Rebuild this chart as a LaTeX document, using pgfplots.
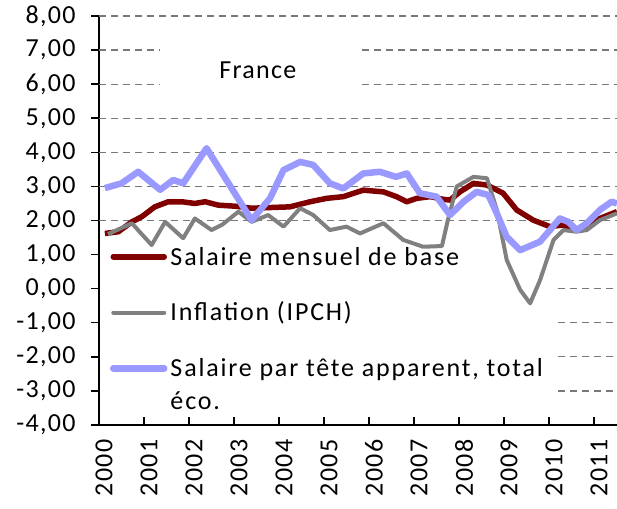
\documentclass[border=0pt]{standalone}
\usepackage{fontspec}
\setmainfont{Carlito}[LetterSpace=5.0]
\newfontfamily\legfont{Carlito}[LetterSpace=7.0]
\usepackage{pgfplots}
\pgfplotsset{compat=1.18}
\definecolor{redline}{RGB}{128,0,0}
\definecolor{grayline}{RGB}{128,128,128}
\definecolor{blueline}{RGB}{153,153,255}
\definecolor{gridc}{RGB}{120,120,120}
\newcommand{\mystrut}{\rule[-8pt]{0pt}{28pt}}
\begin{document}
\begin{tikzpicture}
\begin{axis}[
  name=ax,
  scale only axis,
  width=518pt, height=409pt,
  xmin=2000, xmax=2011.51,
  ymin=-4, ymax=8,
  axis x line*=bottom,
  axis y line*=left,
  axis line style={black, line width=1.5pt},
  tick style={black, line width=1.5pt},
  major tick length=8pt,
  xtick align=inside,
  ytick align=outside,
  xtick={2000,2001,2002,2003,2004,2005,2006,2007,2008,2009,2010,2011},
  xticklabels={2000,2001,2002,2003,2004,2005,2006,2007,2008,2009,2010,2011},
  ytick={-4,-3,-2,-1,0,1,2,3,4,5,6,7,8},
  yticklabels={{-4,00},{-3,00},{-2,00},{-1,00},{0,00},{1,00},{2,00},{3,00},{4,00},{5,00},{6,00},{7,00},{8,00}},
  yticklabel style={font=\fontsize{26}{30}\selectfont, xshift=-12pt},
  xticklabel style={font=\fontsize{26}{30}\selectfont, xshift=5pt, yshift=-11pt, rotate=90, anchor=east},
  legend style={at={(axis cs:2000.24,1.79)}, anchor=north west, draw=none, fill=none, inner sep=0pt,
    row sep=17pt, column sep=3pt,
    nodes={inner sep=0pt, font=\legfont\fontsize{26}{35}\selectfont},
    cells={anchor=west}},
  legend image code/.code={\path[draw=none, fill=none] (0pt,-8pt) rectangle (57pt,28pt);
    \draw[#1, line cap=round] (3pt,-1pt) -- (54pt,-1pt);},
  grid line/.style={gridc, line width=1.3pt, dash pattern=on 7pt off 5pt, forget plot},
]
% gridlines
\addplot[grid line] coordinates {(2000,8) (2011.51,8)};
\addplot[grid line] coordinates {(2000,7) (2001.36,7)};
\addplot[grid line] coordinates {(2005.84,7) (2011.51,7)};
\addplot[grid line] coordinates {(2000,6) (2001.36,6)};
\addplot[grid line] coordinates {(2005.84,6) (2011.51,6)};
\addplot[grid line] coordinates {(2000,5) (2011.51,5)};
\addplot[grid line] coordinates {(2000,4) (2011.51,4)};
\addplot[grid line] coordinates {(2000,3) (2011.51,3)};
\addplot[grid line] coordinates {(2000,2) (2011.51,2)};
\addplot[grid line] coordinates {(2010.2,1) (2011.51,1)};
\addplot[grid line] coordinates {(2010.2,0) (2011.51,0)};
\addplot[grid line] coordinates {(2010.2,-1) (2011.51,-1)};
\addplot[grid line] coordinates {(2010.2,-2) (2011.51,-2)};
\addplot[grid line] coordinates {(2010.2,-3) (2011.51,-3)};
% Salaire mensuel de base
\addplot[redline, line width=5.5pt, line join=round] coordinates {
(2000.13,1.62) (2000.43,1.67) (2000.73,1.96) (2000.95,2.11) (2001.24,2.40) (2001.54,2.55)
(2001.84,2.55) (2002.13,2.50) (2002.36,2.55) (2002.65,2.45) (2003.02,2.42) (2003.39,2.36)
(2003.80,2.38) (2004.24,2.40) (2004.69,2.55) (2005.06,2.65) (2005.43,2.70) (2005.87,2.89)
(2006.32,2.84) (2006.61,2.70) (2006.84,2.55) (2007.06,2.65) (2007.36,2.70) (2007.65,2.62)
(2007.80,2.60) (2008.02,2.84) (2008.32,3.09) (2008.62,3.04) (2008.98,2.80) (2009.28,2.31)
(2009.65,2.01) (2010.02,1.82) (2010.32,1.87) (2010.54,1.72) (2010.84,1.77) (2011.13,2.06)
(2011.51,2.26)};
\addlegendentry{\mystrut Salaire mensuel de base}
% Inflation
\addplot[grayline, line width=4pt, line join=round] coordinates {
(2000.20,1.60) (2000.73,1.92) (2001.17,1.28) (2001.47,1.96) (2001.87,1.48) (2002.13,2.06)
(2002.50,1.72) (2002.73,1.87) (2003.10,2.26) (2003.39,1.96) (2003.76,2.16) (2004.10,1.82)
(2004.47,2.36) (2004.76,2.16) (2005.13,1.72) (2005.50,1.82) (2005.80,1.62) (2006.32,1.92)
(2006.76,1.43) (2007.20,1.23) (2007.62,1.25) (2007.75,2.00) (2007.95,3.00) (2008.32,3.28)
(2008.62,3.24) (2008.84,2.31) (2009.06,0.84) (2009.36,-0.04) (2009.58,-0.43) (2009.80,0.25)
(2010.10,1.43) (2010.32,1.72) (2010.61,1.67) (2010.84,1.72) (2011.13,2.01) (2011.51,2.21)};
\addlegendentry{\mystrut Inflation (IPCH)}
% Salaire par tete
\addplot[blueline, line width=6.5pt, line join=round] coordinates {
(2000.13,2.95) (2000.50,3.09) (2000.87,3.43) (2001.36,2.90) (2001.65,3.19) (2001.87,3.09)
(2002.39,4.12) (2003.39,2.01) (2003.80,2.65) (2004.10,3.48) (2004.47,3.72) (2004.76,3.63)
(2005.13,3.09) (2005.43,2.94) (2005.87,3.38) (2006.24,3.43) (2006.60,3.28) (2006.84,3.38)
(2007.13,2.80) (2007.50,2.70) (2007.80,2.16) (2008.10,2.55) (2008.39,2.84) (2008.65,2.75)
(2008.84,2.21) (2009.06,1.52) (2009.36,1.13) (2009.80,1.38) (2010.02,1.72) (2010.24,2.06)
(2010.43,1.96) (2010.61,1.72) (2010.84,1.92) (2011.13,2.31) (2011.39,2.55) (2011.51,2.50)};
\addlegendentry{\rlap{\raisebox{-33pt}[0pt][0pt]{éco.}}\mystrut Salaire par tête apparent, total}
\node[font=\fontsize{26}{30}\selectfont] at (axis cs:2003.53,6.42) {France};
\end{axis}
\pgfresetboundingbox
\path ([shift={(-99pt,-84pt)}]ax.south west) rectangle ([shift={(0pt,16pt)}]ax.north east);
\end{tikzpicture}
\end{document}
